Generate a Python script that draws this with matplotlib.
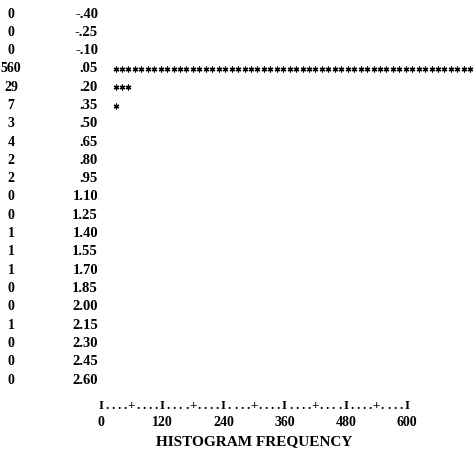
import numpy as np
import matplotlib
matplotlib.use('Agg')
import matplotlib.pyplot as plt

# histogram listing: frequency, bin midpoint
counts = [0, 0, 0, 560, 29, 7, 3, 4, 2, 2, 0, 0, 1, 1, 1, 0, 0, 1, 0, 0, 0]
midpoints = [-0.40, -0.25, -0.10, 0.05, 0.20, 0.35, 0.50, 0.65, 0.80, 0.95,
             1.10, 1.25, 1.40, 1.55, 1.70, 1.85, 2.00, 2.15, 2.30, 2.45, 2.60]
mid_labels = ['-.40', '-.25', '-.10', '.05', '.20', '.35', '.50', '.65', '.80', '.95',
              '1.10', '1.25', '1.40', '1.55', '1.70', '1.85', '2.00', '2.15', '2.30', '2.45', '2.60']
freq_ticks = [0, 120, 240, 360, 480, 600]
axis_chars = 'I....+....I....+....I....+....I....+....I....+....I'
xlabel = 'HISTOGRAM FREQUENCY'
per_star = 10

W, H = 476, 454
fig = plt.figure(figsize=(W / 100, H / 100), dpi=100)
fig.patch.set_facecolor('white')

font = dict(family=['Liberation Serif', 'DejaVu Serif'], weight='bold', color='black')

# main listing: y in bin units, x in frequency units (star scale)
ax = fig.add_axes([0, 0, 1, 1])
ax.axis('off')
step, row_px, first_px = 0.15, 18.3, 14
ax.set_ylim(midpoints[0] + (H - first_px) * step / row_px, midpoints[0] - first_px * step / row_px)
star_px, star_x0 = 0.645, 112.3
ax.set_xlim(-star_x0 / star_px, (W - star_x0) / star_px)

ytr = ax.get_yaxis_transform()
for c, m, lab in zip(counts, midpoints, mid_labels):
    ax.text(11 / W, m, str(c), transform=ytr, ha='center', va='center', fontsize=10, **font)
    ax.text(98 / W, m, lab, transform=ytr, ha='right', va='center', fontsize=10.5, **font)
    n = int(round(c / per_star))
    if n:
        xs = per_star * np.arange(n) + per_star / 2
        ax.scatter(xs, [m] * n, marker=(6, 2, 0), s=12, color='black', linewidths=0.9)

# printed frequency axis underneath
ax2 = fig.add_axes([0, 0, 1, 1], frameon=False)
ax2.axis('off')
ax_px, ax_x0 = 0.51, 101
ax2.set_xlim(-ax_x0 / ax_px, (W - ax_x0) / ax_px)
ax2.set_ylim(H, 0)
char_w = freq_ticks[-1] / (len(axis_chars) - 1)
for i, ch in enumerate(axis_chars):
    ax2.text(i * char_w, 406, ch, ha='center', va='center', fontsize=9.5, **font)
for t in freq_ticks:
    ax2.text(t, 422, str(t), ha='center', va='center', fontsize=10, **font)
ax2.text(freq_ticks[-1] / 2, 442, xlabel, ha='center', va='center', fontsize=11, **font)

fig.savefig('out.png', dpi=100, facecolor='white')
